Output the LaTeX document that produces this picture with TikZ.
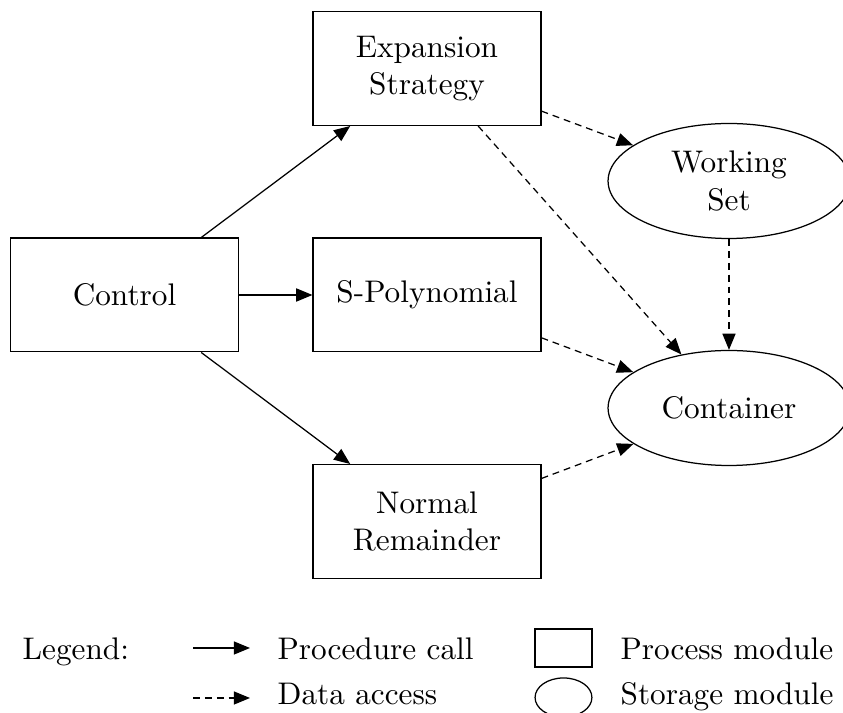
\documentclass[tikz,border=0pt]{standalone}
\usetikzlibrary{arrows.meta,shapes.geometric}
\begin{document}
\begin{tikzpicture}[x=0.32pt,y=-0.32pt,
  procbox/.style={draw,rectangle,minimum width=72.9pt,minimum height=36.4pt,inner sep=0pt,align=center},
  storebox/.style={draw,ellipse,minimum width=77.4pt,minimum height=36.8pt,inner sep=0pt,align=center},
  tip/.style={-{Triangle[length=5.2pt,width=4.2pt]}},
  call/.style={tip},
  data/.style={tip,dash pattern=on 2.2pt off 1.6pt},
  legtext/.style={anchor=base west,inner sep=0pt}]
\useasboundingbox (0,0) rectangle (843,713);
\node[procbox] (ctrl) at (124.5,295) {Control};
\node[procbox] (exp) at (427,68.5) {Expansion\\Strategy};
\node[procbox] (spol) at (427,295) {S-Polynomial};
\node[procbox] (nrem) at (427,521.5) {Normal\\Remainder};
\node[storebox] (ws) at (729,181) {Working\\Set};
\node[storebox] (cont) at (729,408) {Container};

\draw[call] (ctrl) -- (exp);
\draw[call] (ctrl) -- (spol);
\draw[call] (ctrl) -- (nrem);
\draw[data] (exp) -- (ws);
\draw[data] (exp) -- (cont);
\draw[data] (ws) -- (cont);
\draw[data] (spol) -- (cont);
\draw[data] (nrem) -- (cont);

% legend
\node[legtext] (leg) at (22,660) {Legend:};
\coordinate (c1a) at (193,648);
\coordinate (c1b) at (250,648);
\draw[call] (c1a) -- (c1b);
\node[legtext] (lpc) at (277,660) {Procedure call};
\coordinate (c2a) at (193,698);
\coordinate (c2b) at (250,698);
\draw[data] (c2a) -- (c2b);
\node[legtext] (lda) at (277,705) {Data access};
\node[draw,rectangle,minimum width=18.2pt,minimum height=12.2pt,inner sep=0pt] (lbox) at (563.5,648) {};
\node[legtext] (lpm) at (620,660) {Process module};
\node[draw,ellipse,minimum width=18.2pt,minimum height=12.5pt,inner sep=0pt] (lell) at (563.5,697.5) {};
\node[legtext] (lsm) at (620,705) {Storage module};
\end{tikzpicture}
\end{document}
